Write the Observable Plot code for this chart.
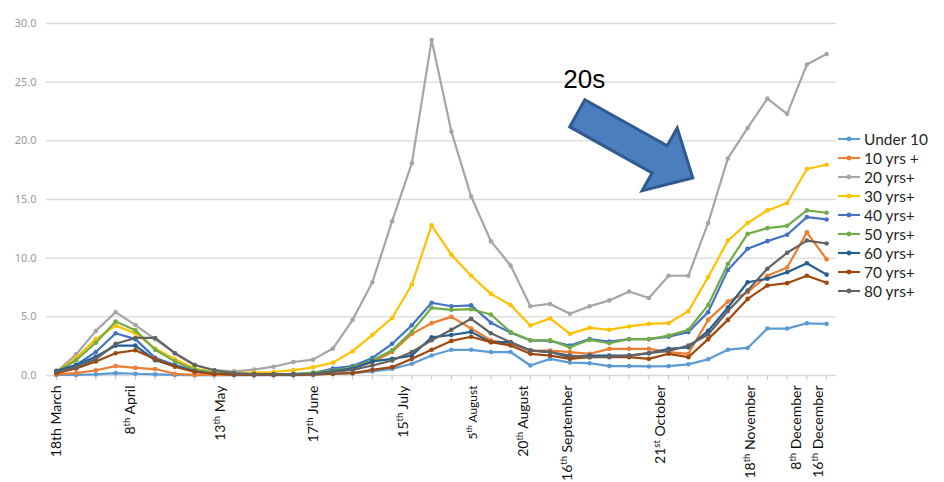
<!DOCTYPE html>
<html><head><meta charset="utf-8">
<script src="https://cdn.jsdelivr.net/npm/d3@7"></script>
<script src="https://cdn.jsdelivr.net/npm/@observablehq/plot@0.6"></script>
<style>
body{margin:0;background:#fff;}
#wrap{position:relative;width:944px;height:482px;overflow:hidden;}
#legend{position:absolute;left:837px;top:129px;font-family:Lato,"Open Sans",sans-serif;font-size:15.5px;color:#262626;}
.item{height:19.1px;display:flex;align-items:center;white-space:nowrap;}
.item svg{margin-right:3px;}
</style></head><body><div id="wrap"><div id="legend"></div></div>
<script>
// weekly categories 18th March .. 16th December (40 weeks)
const weekIndex = d3.range(40);

const seriesNames = ["Under 10", "10 yrs +", "20 yrs+", "30 yrs+", "40 yrs+", "50 yrs+", "60 yrs+", "70 yrs+", "80 yrs+"];
const seriesColors = ["#5B9BD5", "#ED7D31", "#A5A5A5", "#FFC000", "#4472C4", "#70AD47", "#255E91", "#9E480E", "#636363"];

const under10 = [0.05,0.05,0.1,0.2,0.15,0.1,0.05,0.02,0.02,0.02,0.02,0.02,0.02,0.05,0.15,0.2,0.35,0.57,1.0,1.7,2.19,2.19,2.0,2.0,0.85,1.42,1.1,1.05,0.8,0.8,0.77,0.8,0.95,1.38,2.2,2.35,4.0,4.0,4.45,4.4];
const yrs10 = [0.1,0.2,0.45,0.8,0.65,0.55,0.15,0.05,0.05,0.05,0.05,0.05,0.05,0.1,0.4,0.65,1.14,2.0,3.55,4.46,5.0,4.0,3.0,2.7,2.13,2.13,2.0,1.85,2.27,2.27,2.27,2.0,1.85,4.74,6.3,7.1,8.5,9.2,12.2,9.9];
const yrs20 = [0.3,1.8,3.8,5.4,4.3,3.1,1.9,0.9,0.45,0.35,0.5,0.75,1.15,1.35,2.3,4.75,7.95,13.15,18.1,28.6,20.8,15.26,11.45,9.38,5.9,6.1,5.26,5.9,6.4,7.16,6.6,8.5,8.5,13.0,18.5,21.1,23.6,22.3,26.5,27.4];
const yrs30 = [0.3,1.5,3.1,4.25,3.6,2.3,1.4,0.6,0.3,0.2,0.25,0.3,0.45,0.7,1.1,2.07,3.47,4.9,7.76,12.8,10.3,8.5,6.96,6.0,4.26,4.87,3.55,4.06,3.9,4.18,4.4,4.46,5.48,8.38,11.5,13.0,14.07,14.7,17.6,17.96];
const yrs40 = [0.3,0.9,2.0,3.6,3.1,1.5,0.9,0.4,0.15,0.1,0.1,0.1,0.1,0.2,0.6,0.8,1.5,2.7,4.28,6.2,5.9,5.98,4.5,3.65,3.0,2.95,2.56,3.1,2.9,3.1,3.1,3.3,3.7,5.4,9.0,10.8,11.45,12.0,13.5,13.3];
const yrs50 = [0.3,1.3,2.8,4.6,3.85,2.2,1.2,0.5,0.25,0.15,0.15,0.1,0.15,0.25,0.45,0.7,1.3,2.15,3.75,5.77,5.6,5.65,5.2,3.7,3.0,3.0,2.4,3.04,2.75,3.1,3.1,3.4,3.9,6.0,9.5,12.07,12.56,12.76,14.07,13.87];
const yrs60 = [0.4,0.9,1.6,2.55,2.55,1.3,0.8,0.35,0.15,0.1,0.1,0.1,0.1,0.15,0.35,0.6,1.2,1.42,1.7,3.25,3.45,3.72,2.84,2.84,2.13,2.0,1.56,1.7,1.7,1.7,1.9,2.27,2.4,3.8,5.8,7.95,8.24,8.8,9.57,8.6];
const yrs70 = [0.2,0.6,1.2,1.9,2.15,1.4,0.75,0.3,0.15,0.1,0.05,0.05,0.05,0.1,0.15,0.2,0.48,0.71,1.42,2.2,2.95,3.3,2.84,2.56,1.85,1.7,1.42,1.56,1.56,1.56,1.42,1.85,1.56,3.1,4.74,6.53,7.67,7.87,8.5,7.9];
const yrs80 = [0.3,0.7,1.4,2.7,3.2,3.2,1.9,0.9,0.45,0.2,0.1,0.1,0.1,0.15,0.3,0.48,0.85,1.28,2.0,3.0,3.9,4.83,3.6,2.84,2.13,2.0,1.7,1.56,1.6,1.7,1.9,2.1,2.56,3.5,5.5,7.24,9.1,10.46,11.5,11.25];
const seriesValues = [under10, yrs10, yrs20, yrs30, yrs40, yrs50, yrs60, yrs70, yrs80];

const yTicks = [0, 5, 10, 15, 20, 25, 30];
const tickLabels = ["18th March","8th April","13th May","17th June","15th July","5th August","20th August","16th September","21st October","18th November","8th December","16th December"];
const tickLabelWeek = [0, 3.75, 8.3, 13, 17.6, 21.1, 23.65, 25.9, 30.6, 35.15, 37.5, 38.6];

// annotation
const noteText = "20s";
const noteAt = {week: 25.67, value: 24.47};
const arrowFrom = {week: 26.4, value: 22.3};
const arrowTo = {week: 32.25, value: 16.8};

const labelData = tickLabels.map((label, i) => ({label, week: tickLabelWeek[i]}));

const seriesMarks = seriesNames.flatMap((name, s) => {
  const rows = weekIndex.map(w => ({week: w, value: seriesValues[s][w], group: name}));
  return [
    Plot.line(rows, {x: "week", y: "value", stroke: seriesColors[s], strokeWidth: 2.2, curve: "linear"}),
    Plot.dot(rows, {x: "week", y: "value", fill: seriesColors[s], r: 2.3})
  ];
});

const chart = Plot.plot({
  width: 944, height: 482,
  marginLeft: 46, marginRight: 108, marginTop: 23, marginBottom: 107,
  x: {domain: [-0.5, 39.5], axis: null},
  y: {domain: [0, 30], axis: null},
  style: {background: "white", overflow: "visible"},
  marks: [
    Plot.ruleY(yTicks, {stroke: "#d9d9d9", strokeWidth: 1.3}),
    Plot.ruleX(weekIndex, {x: d => d, y1: 0, y2: 0, insetBottom: -5, stroke: "#c8c8c8", strokeWidth: 1}),
    Plot.text(yTicks, {x: -0.5, y: d => d, text: d => d.toFixed(1), textAnchor: "end", dx: -10, fill: "#999", fontSize: 11, fontFamily: "'Noto Sans', sans-serif"}),
    Plot.text(labelData, {x: "week", y: 0, text: "label", rotate: -90, textAnchor: "end", dy: 10,
      fontSize: d => d.label === "5th August" ? 12 : 14, fill: "#111", fontFamily: "Lato, sans-serif"}),
    ...seriesMarks,
    Plot.text([noteAt], {x: "week", y: "value", text: () => noteText, textAnchor: "start", lineAnchor: "bottom", fontSize: 26, fill: "#000", fontFamily: "'Liberation Sans', Arial, sans-serif"})
  ]
});

document.getElementById("wrap").prepend(chart);

// superscript ordinal suffixes on the date labels (except the first)
d3.select(chart).selectAll("text").each(function() {
  const t = this.textContent;
  const k = tickLabels.indexOf(t);
  if (k <= 0) return;
  const m = t.match(/^(\d+)(st|nd|rd|th)(.*)$/);
  if (!m) return;
  const el = d3.select(this);
  const fs = k === 5 ? 8 : 9.5;
  el.text("");
  el.append("tspan").text(m[1]);
  el.append("tspan").attr("font-size", fs).attr("dy", -5).text(m[2]);
  el.append("tspan").attr("dy", 5).text(m[3]);
});

// block arrow annotation
const xs = chart.scale("x"), ys = chart.scale("y");
const T = [xs.apply(arrowFrom.week), ys.apply(arrowFrom.value)];
const P = [xs.apply(arrowTo.week), ys.apply(arrowTo.value)];
const len = Math.hypot(P[0] - T[0], P[1] - T[1]);
const u = [(P[0] - T[0]) / len, (P[1] - T[1]) / len];
const n = [-u[1], u[0]];
const hw = 15.5, hhw = 36, hl = 38;
const B = [P[0] - u[0] * hl, P[1] - u[1] * hl];
const pt = (o, k) => [o[0] + n[0] * k, o[1] + n[1] * k];
const poly = [pt(T, hw), pt(B, hw), pt(B, hhw), P, pt(B, -hhw), pt(B, -hw), pt(T, -hw)];
d3.select(chart).append("polygon")
  .attr("points", poly.map(p => p.join(",")).join(" "))
  .attr("fill", "#4A7EBF").attr("stroke", "#2F5A8F").attr("stroke-width", 3).attr("stroke-linejoin", "miter");

// legend
const legend = d3.select("#legend");
seriesNames.forEach((name, s) => {
  const item = legend.append("div").attr("class", "item");
  const sv = item.append("svg").attr("width", 24).attr("height", 10);
  sv.append("line").attr("x1", 1).attr("x2", 23).attr("y1", 5).attr("y2", 5).attr("stroke", seriesColors[s]).attr("stroke-width", 2.1);
  sv.append("circle").attr("cx", 12).attr("cy", 5).attr("r", 2.4).attr("fill", seriesColors[s]);
  item.append("span").text(name);
});
</script>
</body></html>
